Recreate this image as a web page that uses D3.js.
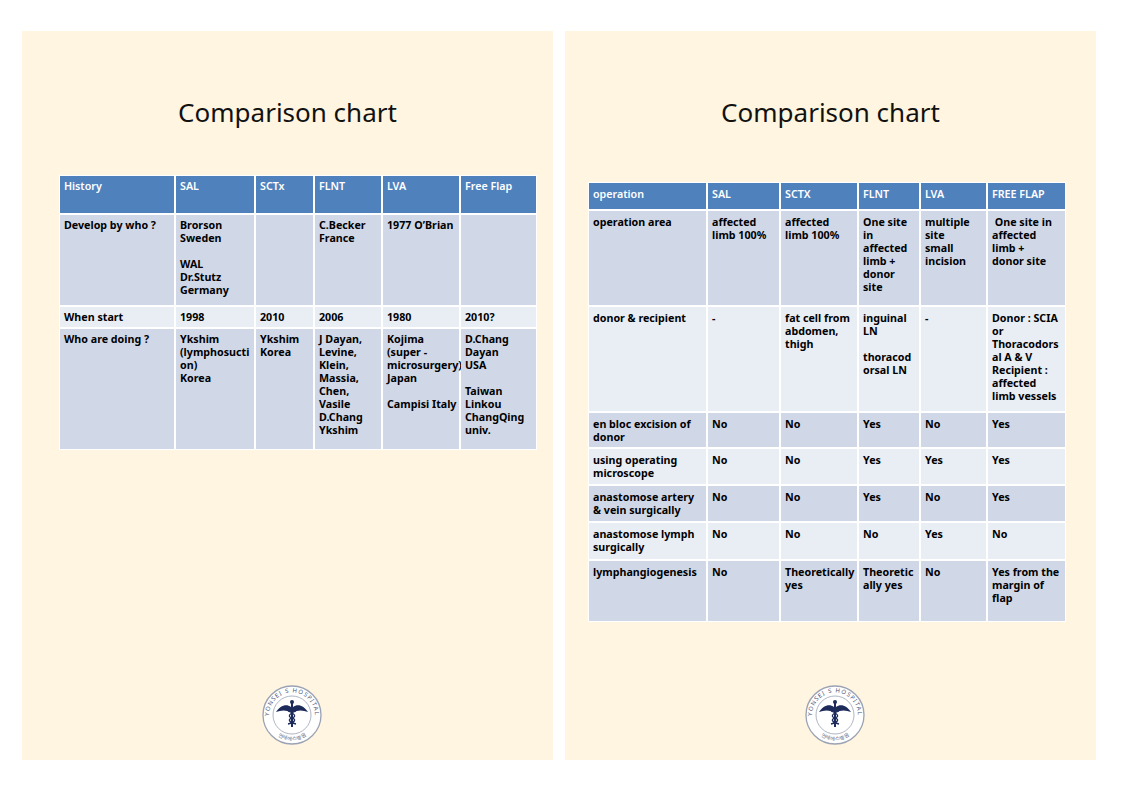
<!DOCTYPE html>
<html>
<head>
<meta charset="utf-8">
<script src="https://cdn.jsdelivr.net/npm/d3@7"></script>
<style>
  body { margin:0; background:#fff; }
  svg text { font-family: "Noto Sans", "DejaVu Sans", sans-serif; }
</style>
</head>
<body>
<svg id="page" width="1121" height="793"></svg>
<script>
// ---- data: slide 1 (history) ----
var historyHead = ["History", "SAL", "SCTx", "FLNT", "LVA", "Free Flap"];
var historyRows = [
  ["Develop by who ?", "Brorson\nSweden\n\nWAL\nDr.Stutz\nGermany", "", "C.Becker\nFrance", "1977 O\u2019Brian", ""],
  ["When start", "1998", "2010", "2006", "1980", "2010?"],
  ["Who are doing ?", "Ykshim\n(lymphosucti\non)\nKorea", "Ykshim\nKorea",
   "J Dayan,\nLevine,\nKlein,\nMassia,\nChen,\nVasile\nD.Chang\nYkshim",
   "Kojima\n(super -\nmicrosurgery)\nJapan\n\nCampisi Italy",
   "D.Chang\nDayan\nUSA\n\nTaiwan\nLinkou\nChangQing\nuniv."]
];

// ---- data: slide 2 (operation) ----
var opHead = ["operation", "SAL", "SCTX", "FLNT", "LVA", "FREE FLAP"];
var opRows = [
  ["operation area", "affected\nlimb 100%", "affected\nlimb 100%", "One site\nin\naffected\nlimb +\ndonor\nsite", "multiple\nsite\nsmall\nincision", " One site in\naffected\nlimb +\ndonor site"],
  ["donor & recipient", "-", "fat cell from\nabdomen,\nthigh", "inguinal\nLN\n\nthoracod\norsal LN", "-", "Donor : SCIA\nor\nThoracodors\nal A & V\nRecipient :\naffected\nlimb vessels"],
  ["en bloc excision of\ndonor", "No", "No", "Yes", "No", "Yes"],
  ["using operating\nmicroscope", "No", "No", "Yes", "Yes", "Yes"],
  ["anastomose artery\n& vein surgically", "No", "No", "Yes", "No", "Yes"],
  ["anastomose lymph\nsurgically", "No", "No", "No", "Yes", "No"],
  ["lymphangiogenesis", "No", "Theoretically\nyes", "Theoretic\nally yes", "No", "Yes from the\nmargin of\nflap"]
];

var titleText = "Comparison chart";
var sealTop = "YONSEI S HOSPITAL", sealBottom = "연세에스병원";

// ---- layout ----
var slides = [
  {x:22, w:531, head:historyHead, rows:historyRows, firstLine:15,
   cols:[59,175,255,314,382,460,537], rowEdges:[175,214,306,328,450]},
  {x:565, w:531, head:opHead, rows:opRows, firstLine:16,
   cols:[588,707,780,858,920,987,1066], rowEdges:[182,210,306,412,448,485,522,560,622]}
];
var slideTop = 31, slideH = 729;
var lineH = 13;

var svg = d3.select("#page");

slides.forEach(function(s){
  var g = svg.append("g");
  g.append("rect").attr("x", s.x).attr("y", slideTop).attr("width", s.w).attr("height", slideH)
    .attr("fill", "#fff5e0");

  g.append("text").attr("x", s.x + s.w/2).attr("y", 122)
    .attr("text-anchor", "middle").attr("font-size", 26).attr("fill", "#111")
    .text(titleText);

  var x = d3.scaleOrdinal().domain(d3.range(s.cols.length)).range(s.cols);
  var y = d3.scaleOrdinal().domain(d3.range(s.rowEdges.length)).range(s.rowEdges);

  var table = g.append("g");
  table.append("rect").attr("x", x(0)).attr("y", y(0))
    .attr("width", x(6) - x(0)).attr("height", y(s.rowEdges.length-1) - y(0))
    .attr("fill", "#fff");

  var allRows = [s.head].concat(s.rows);
  var rowG = table.selectAll(".row").data(allRows).enter().append("g").attr("class", "row");

  rowG.each(function(row, ri){
    var rg = d3.select(this);
    var cells = rg.selectAll(".cell").data(row).enter().append("g").attr("class", "cell");
    cells.append("rect")
      .attr("x", function(d, ci){ return x(ci) + 1; })
      .attr("y", y(ri) + 1)
      .attr("width", function(d, ci){ return x(ci+1) - x(ci) - 2; })
      .attr("height", y(ri+1) - y(ri) - 2)
      .attr("fill", ri == 0 ? "#4f81bd" : (ri % 2 == 1 ? "#d0d8e8" : "#e9edf4"));
    cells.each(function(d, ci){
      var t = d3.select(this).append("text")
        .attr("font-size", 10.7)
        .attr("font-weight", ri == 0 ? 600 : "bold")
        .attr("fill", ri == 0 ? "#fff" : "#000")
        .attr("xml:space", "preserve");
      d.split("\n").forEach(function(line, li){
        if (line === "") return;
        t.append("tspan").attr("x", x(ci) + 5)
          .attr("y", y(ri) + s.firstLine + li * lineH).text(line);
      });
    });
  });

  // hospital seal
  var cx = s.x + 270, cy = 715;
  var logo = g.append("g").attr("transform", "translate(" + cx + "," + cy + ")");
  logo.append("circle").attr("r", 29).attr("fill", "#fff").attr("stroke", "#9aa2b4").attr("stroke-width", 1.3);
  logo.append("circle").attr("r", 19).attr("fill", "none").attr("stroke", "#9aa2b4").attr("stroke-width", 0.8);
  var pid = "arcTop" + s.x, pid2 = "arcBot" + s.x;
  logo.append("path").attr("id", pid).attr("fill", "none")
    .attr("d", "M -17 16 A 23 23 0 1 1 17 16");
  logo.append("path").attr("id", pid2).attr("fill", "none")
    .attr("d", "M -15 20 A 25 25 0 0 0 15 20");
  logo.append("text").attr("font-size", 6).attr("fill", "#4a5578").attr("letter-spacing", 1)
    .append("textPath").attr("href", "#" + pid).attr("startOffset", "50%").attr("text-anchor", "middle")
    .text(sealTop);
  logo.append("text").attr("font-size", 5).attr("fill", "#4a5578")
    .append("textPath").attr("href", "#" + pid2).attr("startOffset", "50%").attr("text-anchor", "middle")
    .text(sealBottom);
  // caduceus
  logo.append("path").attr("fill", "#1d2b5a")
    .attr("d", "M -1 -8 C -6 -12 -12 -9 -16 -3 C -11 -5 -6 -5 -1 -3 Z M 1 -8 C 6 -12 12 -9 16 -3 C 11 -5 6 -5 1 -3 Z");
  logo.append("rect").attr("x", -1).attr("y", -12).attr("width", 2).attr("height", 24).attr("fill", "#1d2b5a");
  logo.append("circle").attr("cy", -13).attr("r", 2).attr("fill", "#1d2b5a");
  logo.append("path").attr("fill", "none").attr("stroke", "#1d2b5a").attr("stroke-width", 1.3)
    .attr("d", "M -4 -4 C 4 -1 4 2 0 3 C -4 4 -4 7 4 9 M 4 -4 C -4 -1 -4 2 0 3 C 4 4 4 7 -4 9");
});
</script>
</body>
</html>
